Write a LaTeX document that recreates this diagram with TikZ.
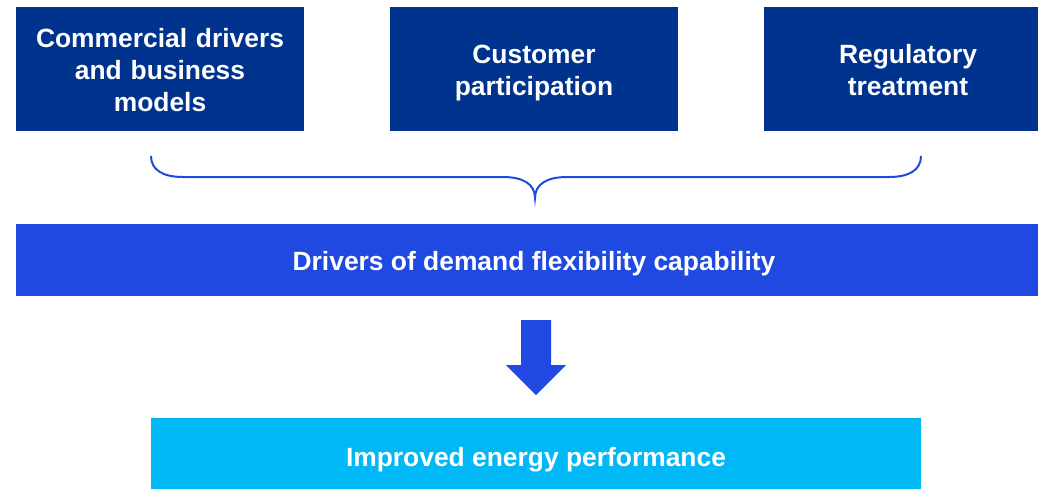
\documentclass[tikz,border=0pt]{standalone}
\usepackage{fontspec}
\setmainfont{Liberation Sans}
\definecolor{navyblue}{RGB}{0,51,141}
\definecolor{royalblue}{RGB}{31,73,224}
\definecolor{skyblue}{RGB}{0,184,245}
% uniform line height so every label centres the same way
\newcommand\linestrut{\rule[-6pt]{0pt}{32pt}}
\begin{document}
\begin{tikzpicture}[x=1pt,y=-1pt,
  box/.style={draw=none,inner sep=0pt,text=white,align=center,
    font=\fontsize{26.4}{32}\selectfont\bfseries},
  topbox/.style={box,fill=navyblue,minimum width=288pt,minimum height=124pt,text width=280pt},
  bracestyle/.style={draw=royalblue,line width=2pt}]
\useasboundingbox (0,0) rectangle (1038,488);
% three drivers along the top
\node[topbox] (commercial) at (160,69)
  {\linestrut Commercial drivers\\\linestrut and business\\\linestrut models};
\node[topbox] (customer) at (534,69) {\linestrut Customer\\\linestrut participation};
\node[topbox] (regulatory) at (908,69) {\linestrut Regulatory\\\linestrut treatment};
% brace gathering the drivers
\coordinate (bl) at (151,156);
\coordinate (br) at (921,156);
\coordinate (btip) at (535,198);
\path[bracestyle] (bl) .. controls (151,170) and (163,177) .. (183,177)
  -- (503,177) .. controls (523,177) and (535,184) .. (btip)
  .. controls (535,184) and (547,177) .. (567,177)
  -- (889,177) .. controls (909,177) and (921,170) .. (br);
% summary bar
\node[box,fill=royalblue,minimum width=1036pt,minimum height=72pt] (drivers) at (534,260)
  {\linestrut Drivers of demand flexibility capability};
% block arrow
\coordinate (atip) at (536,395);
\fill[royalblue] (521,320) -- (551,320) -- (551,365) -- (566,365)
  -- (atip) -- (506,365) -- (521,365) -- cycle;
% outcome bar
\node[box,fill=skyblue,minimum width=770pt,minimum height=76pt] (outcome) at (536,456)
  {\linestrut Improved energy performance};
\end{tikzpicture}
\end{document}
